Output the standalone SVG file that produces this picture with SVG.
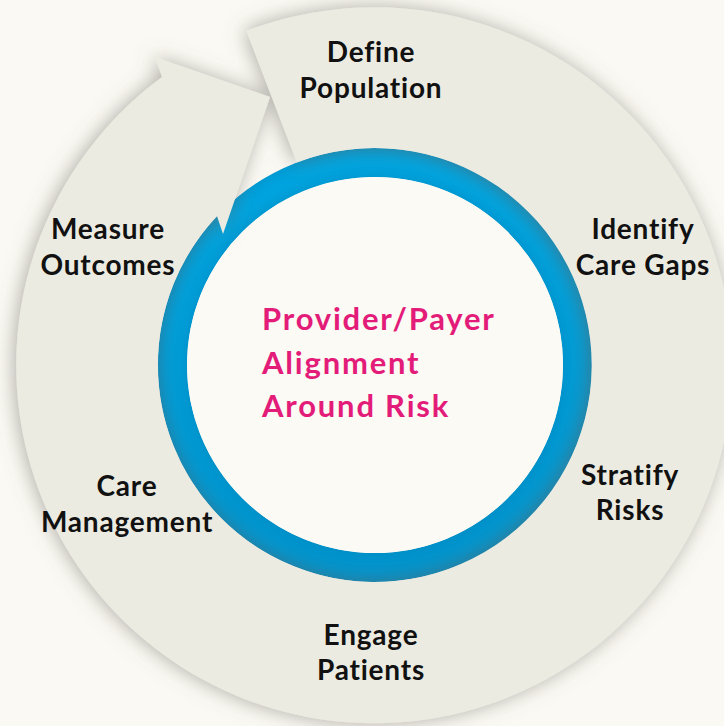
<svg xmlns="http://www.w3.org/2000/svg" width="724" height="726" viewBox="0 0 724 726">
  <defs>
    <filter id="shadow" x="-20%" y="-20%" width="140%" height="140%">
      <feDropShadow dx="-2" dy="0" stdDeviation="10" flood-color="#6e6c64" flood-opacity="0.55"/>
    </filter>
    <linearGradient id="blueGrad" x1="0" y1="0" x2="0" y2="1">
      <stop offset="0" stop-color="#00a4df"/>
      <stop offset="1" stop-color="#0093cc"/>
    </linearGradient>
    <radialGradient id="blueEdge" cx="375" cy="365" r="217" gradientUnits="userSpaceOnUse">
      <stop offset="0.86" stop-color="#007fb5" stop-opacity="0.35"/>
      <stop offset="0.93" stop-color="#00a4df" stop-opacity="0"/>
      <stop offset="1" stop-color="#007fb5" stop-opacity="0.3"/>
    </radialGradient>
  </defs>
  <style>
    .label { font-family: Lato, "Liberation Sans", sans-serif; font-weight: 700; font-size: 28px; letter-spacing: 0.8px; fill: #111111; text-anchor: middle; }
    .center { font-family: Lato, "Liberation Sans", sans-serif; font-weight: 700; font-size: 31px; letter-spacing: 1.8px; fill: #e31c79; }
  </style>
  <rect x="0" y="0" width="724" height="726" fill="#fbf9f3"/>

  <g id="center-hub">
    <circle cx="375" cy="365" r="202.5" fill="none" stroke="url(#blueGrad)" stroke-width="29"/>
    <circle cx="375" cy="365" r="202.5" fill="none" stroke="url(#blueEdge)" stroke-width="29"/>
    <circle cx="375" cy="365" r="188" fill="#fcfaf4"/>
  </g>

  <g id="connectors">
    <path filter="url(#shadow)" fill="#ecebe1" d="M246.4,30.9 A358,358 0 1,1 162,77 L155,57 L270,97 L223,234 L217,216 A217,217 0 1,0 296.8,162.5 Z"/>
  </g>

  <g id="hub-text">
    <text class="center" x="262" y="330">Provider/Payer</text>
    <text class="center" x="262" y="374">Alignment</text>
    <text class="center" x="262" y="417">Around Risk</text>
  </g>

  <g id="node-define-population">
    <text class="label" x="371" y="62">Define</text>
    <text class="label" x="371" y="98">Population</text>
  </g>
  <g id="node-identify-care-gaps">
    <text class="label" x="643" y="239">Identify</text>
    <text class="label" x="643" y="275">Care Gaps</text>
  </g>
  <g id="node-stratify-risks">
    <text class="label" x="630" y="485">Stratify</text>
    <text class="label" x="630" y="520">Risks</text>
  </g>
  <g id="node-engage-patients">
    <text class="label" x="371" y="645">Engage</text>
    <text class="label" x="371" y="680">Patients</text>
  </g>
  <g id="node-care-management">
    <text class="label" x="127" y="496">Care</text>
    <text class="label" x="127" y="532">Management</text>
  </g>
  <g id="node-measure-outcomes">
    <text class="label" x="108" y="239">Measure</text>
    <text class="label" x="108" y="275">Outcomes</text>
  </g>
</svg>
